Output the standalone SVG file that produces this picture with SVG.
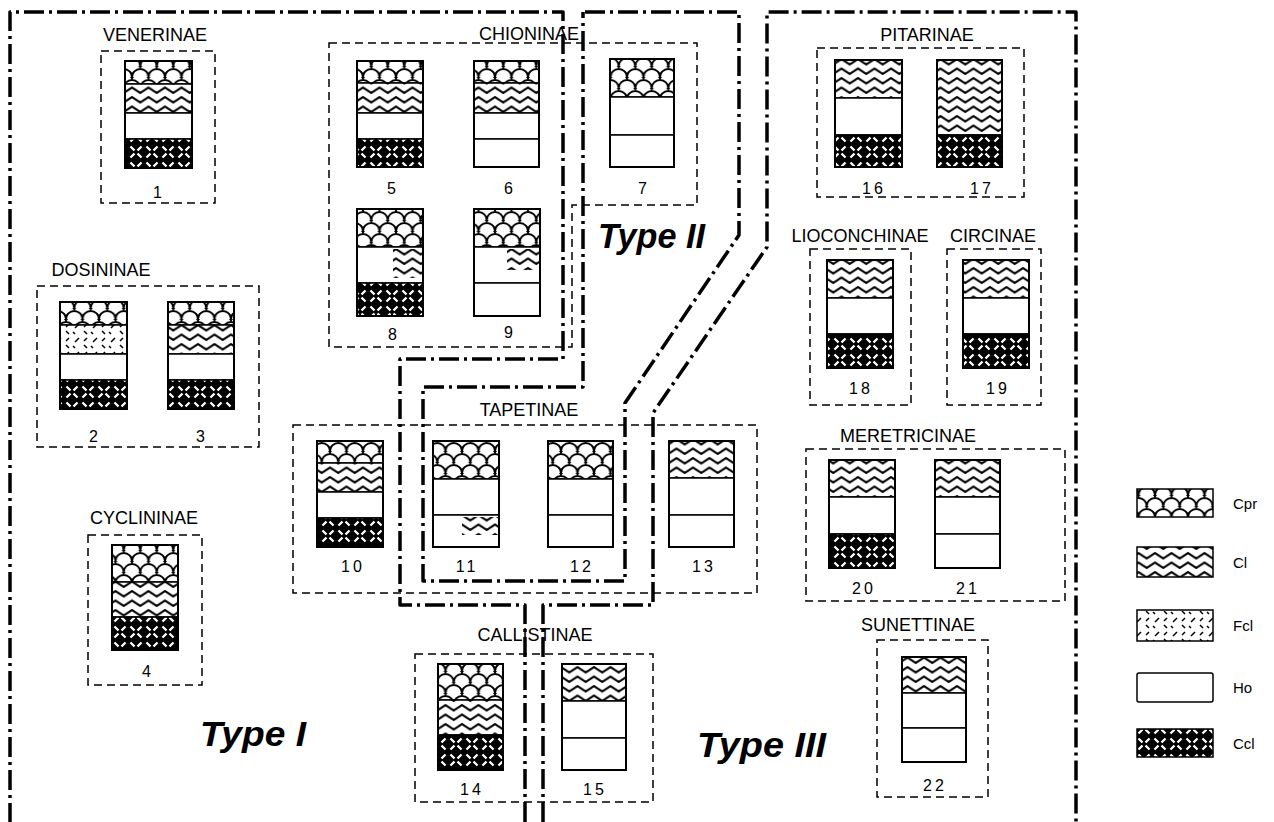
<svg xmlns="http://www.w3.org/2000/svg" width="1274" height="822" viewBox="0 0 1274 822">
<defs>
<pattern id="cpr" patternUnits="userSpaceOnUse" width="16.5" height="22">
<rect width="16.5" height="22" fill="#fff"/>
<path d="M0,11 A8.25,8 0 0 1 16.5,11 M-8.25,22 A8.25,8 0 0 1 8.25,22 M8.25,22 A8.25,8 0 0 1 24.75,22 M-8.25,0 A8.25,8 0 0 1 8.25,0 M8.25,0 A8.25,8 0 0 1 24.75,0" fill="none" stroke="#000" stroke-width="2"/>
<path d="M-2,11 L0,14 L2,11 Z M14.5,11 L16.5,14 L18.5,11 Z M6.25,22 L8.25,25 L10.25,22 Z M6.25,0 L8.25,3 L10.25,0 Z" fill="#000"/>
</pattern>
<pattern id="cl" patternUnits="userSpaceOnUse" width="16.5" height="9.5">
<rect width="16.5" height="9.5" fill="#fff"/>
<path d="M-8.25,7.5 L0,2 L8.25,7.5 L16.5,2 L24.75,7.5" fill="none" stroke="#000" stroke-width="2.2" stroke-linejoin="round"/>
</pattern>
<pattern id="fcl" patternUnits="userSpaceOnUse" width="18" height="14">
<rect width="18" height="14" fill="#fff"/>
<path d="M3,6 L7,2 M12,9 L15,12 M1,10 L3,12 M12,5 L15,2" fill="none" stroke="#000" stroke-width="1.5"/>
</pattern>
<pattern id="ccl" patternUnits="userSpaceOnUse" width="16" height="16">
<rect width="16" height="16" fill="#000"/>
<path d="M2.5,2.5 L6.5,6.5 M9.5,9.5 L13.5,13.5 M13.5,2.5 L9.5,6.5 M6.5,9.5 L2.5,13.5" fill="none" stroke="#fff" stroke-width="2.3" stroke-linecap="butt"/>
</pattern>
</defs>
<style>
.box{fill:none;stroke:#000;stroke-width:1.5;stroke-dasharray:8 5}
.bnd{fill:none;stroke:#000;stroke-width:3.5;stroke-dasharray:20 5 3 5;stroke-linejoin:round}
.bar{fill:none;stroke:#000;stroke-width:2}
.sec{stroke:#000;stroke-width:1.5}
.cpr{fill:url(#cpr)}
.cl{fill:url(#cl)}
.fcl{fill:url(#fcl)}
.ccl{fill:url(#ccl)}
.ho{fill:#fff}
.lbl{font-family:"Liberation Sans",Arial,sans-serif;font-size:18px;text-anchor:middle;fill:#000}
.num{font-family:"Liberation Sans",Arial,sans-serif;font-size:16px;text-anchor:middle;fill:#000;letter-spacing:3px}
.typ{font-family:"Liberation Sans",Arial,sans-serif;font-size:35px;font-weight:bold;font-style:italic;fill:#000}
.leg{font-family:"Liberation Sans",Arial,sans-serif;font-size:15px;fill:#000}
</style>
<rect width="1274" height="822" fill="#fff"/>

<g id="boundaries">
<path class="bnd" d="M525,822 V605 H400 V359 H563 V12 H10 V822"/>
<path class="bnd" d="M585,12 H739 V235 L625,403 V581 H423 V387 H583 V12"/>
<path class="bnd" d="M543,822 V605 H653 V413 L767,247 V12 H1076 V822"/>
</g>

<g id="venerinae">
<rect class="box" x="101" y="51" width="114" height="152"/>
<text class="lbl" x="155" y="41">VENERINAE</text>
<g id="bar1">
<rect class="sec cpr" x="125" y="61" width="67" height="23"/>
<rect class="sec cl" x="125" y="84" width="67" height="29"/>
<rect class="sec ho" x="125" y="113" width="67" height="26"/>
<rect class="sec ccl" x="125" y="139" width="67" height="29"/>
<rect class="bar" x="125" y="61" width="67" height="107"/>
<text class="num" x="159" y="198">1</text>
</g>
</g>

<g id="dosininae">
<rect class="box" x="37" y="286" width="222" height="161"/>
<text class="lbl" x="101" y="276">DOSININAE</text>
<g id="bar2">
<rect class="sec cpr" x="60" y="302" width="67" height="23"/>
<rect class="sec fcl" x="60" y="325" width="67" height="29"/>
<rect class="sec ho" x="60" y="354" width="67" height="26"/>
<rect class="sec ccl" x="60" y="380" width="67" height="29"/>
<rect class="bar" x="60" y="302" width="67" height="107"/>
<text class="num" x="95" y="442">2</text>
</g>
<g id="bar3">
<rect class="sec cpr" x="168" y="302" width="66" height="23"/>
<rect class="sec cl" x="168" y="325" width="66" height="29"/>
<rect class="sec ho" x="168" y="354" width="66" height="26"/>
<rect class="sec ccl" x="168" y="380" width="66" height="29"/>
<rect class="bar" x="168" y="302" width="66" height="107"/>
<text class="num" x="202" y="442">3</text>
</g>
</g>

<g id="cyclininae">
<rect class="box" x="88" y="535" width="114" height="150"/>
<text class="lbl" x="144" y="524">CYCLININAE</text>
<g id="bar4">
<rect class="sec cpr" x="112" y="545" width="66" height="37"/>
<rect class="sec cl" x="112" y="582" width="66" height="35"/>
<rect class="sec ccl" x="112" y="617" width="66" height="33"/>
<rect class="bar" x="112" y="545" width="66" height="105"/>
<text class="num" x="148" y="677">4</text>
</g>
</g>

<g id="chioninae">
<path class="box" d="M329,43 H697 V205 H572 V347 H329 Z"/>
<text class="lbl" x="529" y="40">CHIONINAE</text>
<g id="bar5">
<rect class="sec cpr" x="357" y="61" width="66" height="22"/>
<rect class="sec cl" x="357" y="83" width="66" height="30"/>
<rect class="sec ho" x="357" y="113" width="66" height="26"/>
<rect class="sec ccl" x="357" y="139" width="66" height="28"/>
<rect class="bar" x="357" y="61" width="66" height="106"/>
<text class="num" x="393" y="194">5</text>
</g>
<g id="bar6">
<rect class="sec cpr" x="474" y="61" width="65" height="22"/>
<rect class="sec cl" x="474" y="83" width="65" height="30"/>
<rect class="sec ho" x="474" y="113" width="65" height="26"/>
<rect class="sec ho" x="474" y="139" width="65" height="28"/>
<rect class="bar" x="474" y="61" width="65" height="106"/>
<text class="num" x="510" y="194">6</text>
</g>
<g id="bar7">
<rect class="sec cpr" x="610" y="59" width="64" height="38"/>
<rect class="sec ho" x="610" y="97" width="64" height="38"/>
<rect class="sec ho" x="610" y="135" width="64" height="32"/>
<rect class="bar" x="610" y="59" width="64" height="108"/>
<text class="num" x="644" y="194">7</text>
</g>
<g id="bar8">
<rect class="sec cpr" x="357" y="209" width="66" height="38"/>
<rect class="sec ho" x="357" y="247" width="66" height="36"/>
<rect class="cl" x="393" y="249" width="30" height="29"/>
<rect class="sec ccl" x="357" y="283" width="66" height="33"/>
<rect class="bar" x="357" y="209" width="66" height="107"/>
<text class="num" x="394" y="340">8</text>
</g>
<g id="bar9">
<rect class="sec cpr" x="474" y="209" width="66" height="38"/>
<rect class="sec ho" x="474" y="247" width="66" height="36"/>
<rect class="cl" x="507" y="249" width="32" height="21"/>
<rect class="sec ho" x="474" y="283" width="66" height="33"/>
<rect class="bar" x="474" y="209" width="66" height="107"/>
<text class="num" x="510" y="338">9</text>
</g>
</g>

<g id="tapetinae">
<rect class="box" x="293" y="425" width="464" height="168"/>
<text class="lbl" x="529" y="416">TAPETINAE</text>
<g id="bar10">
<rect class="sec cpr" x="317" y="441" width="66" height="22"/>
<rect class="sec cl" x="317" y="463" width="66" height="29"/>
<rect class="sec ho" x="317" y="492" width="66" height="26"/>
<rect class="sec ccl" x="317" y="518" width="66" height="29"/>
<rect class="bar" x="317" y="441" width="66" height="106"/>
<text class="num" x="353" y="572">10</text>
</g>
<g id="bar11">
<rect class="sec cpr" x="433" y="441" width="66" height="38"/>
<rect class="sec ho" x="433" y="479" width="66" height="36"/>
<rect class="sec ho" x="433" y="515" width="66" height="32"/>
<rect class="cl" x="462" y="517" width="36" height="18"/>
<rect class="bar" x="433" y="441" width="66" height="106"/>
<text class="num" x="467" y="572">11</text>
</g>
<g id="bar12">
<rect class="sec cpr" x="548" y="441" width="65" height="38"/>
<rect class="sec ho" x="548" y="479" width="65" height="36"/>
<rect class="sec ho" x="548" y="515" width="65" height="32"/>
<rect class="bar" x="548" y="441" width="65" height="106"/>
<text class="num" x="582" y="572">12</text>
</g>
<g id="bar13">
<rect class="sec cl" x="669" y="441" width="65" height="37"/>
<rect class="sec ho" x="669" y="478" width="65" height="37"/>
<rect class="sec ho" x="669" y="515" width="65" height="32"/>
<rect class="bar" x="669" y="441" width="65" height="106"/>
<text class="num" x="704" y="572">13</text>
</g>
</g>

<g id="callistinae">
<rect class="box" x="415" y="654" width="238" height="148"/>
<text class="lbl" x="535" y="641">CALLISTINAE</text>
<g id="bar14">
<rect class="sec cpr" x="438" y="664" width="65" height="36"/>
<rect class="sec cl" x="438" y="700" width="65" height="35"/>
<rect class="sec ccl" x="438" y="735" width="65" height="35"/>
<rect class="bar" x="438" y="664" width="65" height="106"/>
<text class="num" x="472" y="795">14</text>
</g>
<g id="bar15">
<rect class="sec cl" x="562" y="664" width="64" height="37"/>
<rect class="sec ho" x="562" y="701" width="64" height="37"/>
<rect class="sec ho" x="562" y="738" width="64" height="32"/>
<rect class="bar" x="562" y="664" width="64" height="106"/>
<text class="num" x="595" y="795">15</text>
</g>
</g>

<g id="pitarinae">
<rect class="box" x="817" y="48" width="207" height="149"/>
<text class="lbl" x="927" y="41">PITARINAE</text>
<g id="bar16">
<rect class="sec cl" x="835" y="60" width="67" height="38"/>
<rect class="sec ho" x="835" y="98" width="67" height="37"/>
<rect class="sec ccl" x="835" y="135" width="67" height="32"/>
<rect class="bar" x="835" y="60" width="67" height="107"/>
<text class="num" x="874" y="194">16</text>
</g>
<g id="bar17">
<rect class="sec cl" x="937" y="60" width="65" height="75"/>
<rect class="sec ccl" x="937" y="135" width="65" height="32"/>
<rect class="bar" x="937" y="60" width="65" height="107"/>
<text class="num" x="982" y="194">17</text>
</g>
</g>

<g id="lioconchinae">
<rect class="box" x="810" y="249" width="101" height="156"/>
<text class="lbl" x="860" y="242">LIOCONCHINAE</text>
<g id="bar18">
<rect class="sec cl" x="827" y="260" width="66" height="38"/>
<rect class="sec ho" x="827" y="298" width="66" height="36"/>
<rect class="sec ccl" x="827" y="334" width="66" height="34"/>
<rect class="bar" x="827" y="260" width="66" height="108"/>
<text class="num" x="861" y="394">18</text>
</g>
</g>

<g id="circinae">
<rect class="box" x="947" y="249" width="94" height="156"/>
<text class="lbl" x="993" y="242">CIRCINAE</text>
<g id="bar19">
<rect class="sec cl" x="963" y="260" width="66" height="38"/>
<rect class="sec ho" x="963" y="298" width="66" height="36"/>
<rect class="sec ccl" x="963" y="334" width="66" height="34"/>
<rect class="bar" x="963" y="260" width="66" height="108"/>
<text class="num" x="998" y="394">19</text>
</g>
</g>

<g id="meretricinae">
<rect class="box" x="806" y="449" width="259" height="152"/>
<text class="lbl" x="908" y="442">MERETRICINAE</text>
<g id="bar20">
<rect class="sec cl" x="829" y="460" width="66" height="37"/>
<rect class="sec ho" x="829" y="497" width="66" height="37"/>
<rect class="sec ccl" x="829" y="534" width="66" height="34"/>
<rect class="bar" x="829" y="460" width="66" height="108"/>
<text class="num" x="864" y="594">20</text>
</g>
<g id="bar21">
<rect class="sec cl" x="935" y="460" width="65" height="37"/>
<rect class="sec ho" x="935" y="497" width="65" height="37"/>
<rect class="sec ho" x="935" y="534" width="65" height="34"/>
<rect class="bar" x="935" y="460" width="65" height="108"/>
<text class="num" x="968" y="594">21</text>
</g>
</g>

<g id="sunettinae">
<rect class="box" x="877" y="640" width="111" height="157"/>
<text class="lbl" x="918" y="631">SUNETTINAE</text>
<g id="bar22">
<rect class="sec cl" x="902" y="657" width="64" height="36"/>
<rect class="sec ho" x="902" y="693" width="64" height="35"/>
<rect class="sec ho" x="902" y="728" width="64" height="34"/>
<rect class="bar" x="902" y="657" width="64" height="105"/>
<text class="num" x="935" y="791">22</text>
</g>
</g>

<g id="types">
<text class="typ" x="200" y="746" textLength="106" lengthAdjust="spacingAndGlyphs">Type I</text>
<text class="typ" x="598" y="248" textLength="107" lengthAdjust="spacingAndGlyphs">Type II</text>
<text class="typ" x="697" y="757" textLength="129" lengthAdjust="spacingAndGlyphs">Type III</text>
</g>

<g id="legend">
<rect class="sec cpr" x="1137" y="489" width="76" height="28" stroke-width="2"/>
<text class="leg" x="1233" y="509">Cpr</text>
<rect class="sec cl" x="1137" y="547" width="76" height="30" stroke-width="2"/>
<text class="leg" x="1233" y="568">Cl</text>
<rect class="sec fcl" x="1137" y="610" width="76" height="31" stroke-width="2"/>
<text class="leg" x="1233" y="631">Fcl</text>
<rect class="sec ho" x="1137" y="673" width="76" height="29" rx="2" stroke-width="2"/>
<text class="leg" x="1233" y="693">Ho</text>
<rect class="sec ccl" x="1137" y="729" width="76" height="28" stroke-width="2"/>
<text class="leg" x="1233" y="749">Ccl</text>
</g>
</svg>
